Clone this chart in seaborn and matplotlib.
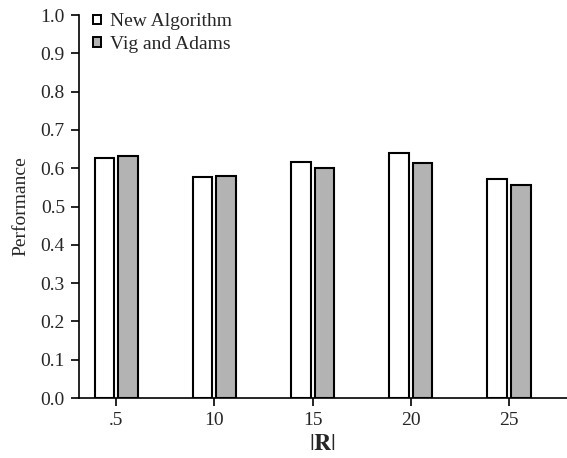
import pandas as pd
import seaborn as sns
import matplotlib
matplotlib.use("Agg")
import matplotlib.pyplot as plt
from matplotlib.patches import Patch

sns.set_theme(style="ticks")
plt.rcParams['font.family'] = ['Liberation Serif', 'DejaVu Serif']
plt.rcParams['mathtext.fontset'] = 'stix'

# values
sizes = ['.5', '10', '15', '20', '25']
newAlgorithm = [0.628, 0.578, 0.617, 0.641, 0.572]
vigAdams = [0.632, 0.581, 0.602, 0.615, 0.557]
seriesNames = ['New Algorithm', 'Vig and Adams']
seriesColors = ['white', '#b3b3b3']

df = pd.DataFrame({
    'R': sizes * 2,
    'Performance': newAlgorithm + vigAdams,
    'Method': [seriesNames[0]] * len(sizes) + [seriesNames[1]] * len(sizes),
})

fig = plt.figure(figsize=(5.67, 4.58), dpi=100)
ax = fig.add_axes([0.139, 0.131, 0.861, 0.836])

sns.barplot(data=df, x='R', y='Performance', hue='Method', palette=seriesColors,
            width=0.48, gap=0.167, edgecolor='black', linewidth=1.5, ax=ax, legend=False)

ax.set_ylim(0, 1.0)
ax.set_xlim(-0.38, 4.59)
ax.set_yticks([i / 10 for i in range(11)])
ax.set_yticklabels(['%.1f' % (i / 10) for i in range(11)])
ax.tick_params(axis='both', labelsize=14, length=6, width=1.2, direction='out', color='black', pad=4)
ax.set_xlabel(r'$|\mathbf{R}|$', fontsize=17, labelpad=4)
ax.set_ylabel('Performance', fontsize=14, labelpad=8)
sns.despine(ax=ax)
for sp in ['left', 'bottom']:
    ax.spines[sp].set_linewidth(1.2)
    ax.spines[sp].set_color('black')

handles = [Patch(facecolor=c, edgecolor='black', linewidth=1.4) for c in seriesColors]
ax.legend(handles, seriesNames, loc='upper left', bbox_to_anchor=(-0.006, 1.05),
          frameon=False, fontsize=14, handlelength=0.4, handleheight=0.4,
          handletextpad=0.45, labelspacing=0.3)

fig.savefig('out.png', dpi=100)
